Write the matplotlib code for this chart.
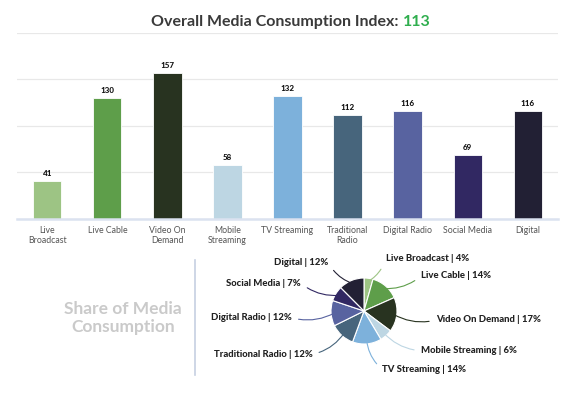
import matplotlib
matplotlib.use("Agg")
import matplotlib.pyplot as plt
from matplotlib.lines import Line2D
import numpy as np

plt.rcParams['font.family'] = ['Lato', 'DejaVu Sans']

categories = ["Live Broadcast", "Live Cable", "Video On Demand", "Mobile Streaming",
              "TV Streaming", "Traditional Radio", "Digital Radio", "Social Media", "Digital"]
tick_labels = ["Live\nBroadcast", "Live Cable", "Video On\nDemand", "Mobile\nStreaming",
               "TV Streaming", "Traditional\nRadio", "Digital Radio", "Social Media", "Digital"]
index_values = [41, 130, 157, 58, 132, 112, 116, 69, 116]
overall_index = 113
colors = ["#9dc484", "#5e9e4a", "#283320", "#bdd6e3", "#7db1db",
          "#47657c", "#5863a0", "#312862", "#222034"]

W, H = 575, 394
fig = plt.figure(figsize=(W / 100, H / 100), dpi=100)
fig.patch.set_facecolor("white")

# ---- bar chart ----
ax = fig.add_axes([17.3 / W, 1 - 219 / H, (557.7 - 17.3) / W, (219 - 33) / H])
x = np.arange(len(categories))
ax.bar(x, index_values, width=0.47, color=colors, edgecolor="white", linewidth=0.6, zorder=3)
for xi, v in zip(x, index_values):
    ax.annotate(str(v), (xi, v), xytext=(0, 5.5), textcoords="offset points",
                ha="center", va="center", fontsize=5.8, fontweight="black", color="#111111")
ax.set_xlim(-0.5, len(categories) - 0.5)
ax.set_ylim(0, 200)
ax.set_yticks([0, 50, 100, 150, 200])
ax.set_yticklabels([])
ax.tick_params(axis="y", length=0)
ax.grid(axis="y", color="#e8e8e8", linewidth=0.9, zorder=0)
ax.set_xticks(x)
ax.set_xticklabels(tick_labels, fontsize=6.3, color="#555555", linespacing=1.15)
ax.tick_params(axis="x", length=0, pad=5)
for s in ax.spines.values():
    s.set_visible(False)
ax.axhline(0, color="#dbe2f0", linewidth=1.8, zorder=4, clip_on=False)

# ---- title ----
renderer = fig.canvas.get_renderer()
ty = 1 - 22 / H
t1 = fig.text(0, ty, "Overall Media Consumption Index:", fontsize=11.5, fontweight="bold",
              color="#3a3a3a", va="center", ha="left")
t2 = fig.text(0, ty, str(overall_index), fontsize=11.5, fontweight="bold",
              color="#2fae4e", va="center", ha="left")
w1 = t1.get_window_extent(renderer).width
w2 = t2.get_window_extent(renderer).width
gap = 4
x0 = 291 - (w1 + gap + w2) / 2
t1.set_x(x0 / W)
t2.set_x((x0 + w1 + gap) / W)

# ---- share section ----
fig.text(123 / W, 1 - 318 / H, "Share of Media\nConsumption", fontsize=12.5, fontweight="bold",
         color="#cacaca", ha="center", va="center", linespacing=1.2)
fig.add_artist(Line2D([195 / W, 195 / W], [1 - 260 / H, 1 - 375 / H],
                      transform=fig.transFigure, color="#c6d0e2", linewidth=1.2))

r_px = 33
cx, cy = 364, 311
pax = fig.add_axes([(cx - r_px) / W, (H - cy - r_px) / H, 2 * r_px / W, 2 * r_px / H])
wedges, _ = pax.pie(index_values, colors=colors, startangle=90, counterclock=False,
                    wedgeprops=dict(edgecolor="white", linewidth=0.8))
pax.set_xlim(-1, 1)
pax.set_ylim(-1, 1)
pax.set_aspect("equal")

total = sum(index_values)
shares = [round(v / total * 100) for v in index_values]

# label anchor positions (pixels from top-left) and side
label_pos = [(385.7, 258.3, "l"), (421, 276, "l"), (436, 320, "l"), (421, 350.7, "l"),
             (382.3, 369.3, "l"), (312.3, 354.3, "r"), (291.7, 317.7, "r"),
             (301, 283.3, "r"), (328.3, 262.3, "r")]

for w, name, sh, (lx, ly, side), c in zip(wedges, categories, shares, label_pos, colors):
    ang = np.deg2rad((w.theta1 + w.theta2) / 2)
    px, py = 0.9 * np.cos(ang), 0.9 * np.sin(ang)
    ha = "left" if side == "l" else "right"
    relpos = (0, 0.5) if side == "l" else (1, 0.5)
    rad = -0.2 if side == "l" else 0.2
    pax.annotate(f"{name} | {sh}%", (px, py), xytext=(lx, H - ly), textcoords="figure pixels",
                 ha=ha, va="center", fontsize=6.8, fontweight="black", color="#222222",
                 annotation_clip=False,
                 arrowprops=dict(arrowstyle="-", color=c, linewidth=0.8, relpos=relpos,
                                 shrinkA=3, shrinkB=0,
                                 connectionstyle=f"arc3,rad={rad}"))

fig.savefig("out.png", dpi=100)
